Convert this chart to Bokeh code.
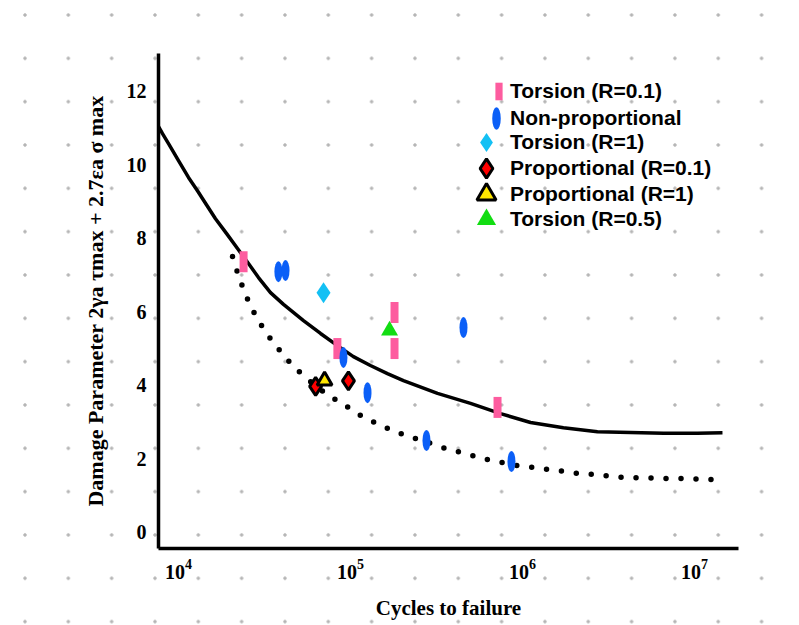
from bokeh.plotting import figure
from bokeh.models import Legend, LegendItem, InlineStyleSheet
from bokeh.embed import file_html
from bokeh.resources import INLINE

# ---- data ----
torsion01_cycles = [23900, 83900, 180300, 180300, 716000]
torsion01_param = [7.36, 5.00, 5.98, 5.00, 3.40]

nonprop_cycles = [38100, 41900, 91000, 125600, 454000, 276600, 863000]
nonprop_param = [7.09, 7.12, 4.76, 3.80, 5.57, 2.50, 1.93]

torsion1_cycles = [69700]
torsion1_param = [6.52]

prop01_cycles = [62700, 97300]
prop01_param = [3.97, 4.12]

prop1_cycles = [70700]
prop1_param = [4.13]

torsion05_cycles = [168700]
torsion05_param = [5.49]

fit_cycles = [7499, 8072, 8750, 10000, 11430, 12890, 14540, 16410, 19000,
              22030, 25520, 29180, 34270, 40780, 53290, 66950, 83950,
              104000, 130600, 164000, 203200, 320600, 498800, 745600,
              1114000, 1730000, 2729000, 4246000, 6607000, 10400000, 14550000]
fit_param = [11.11, 10.84, 10.57, 10.11, 9.65, 9.29, 8.91, 8.53, 8.13,
             7.72, 7.31, 6.93, 6.52, 6.20, 5.76, 5.41, 5.08,
             4.78, 4.54, 4.32, 4.13, 3.78, 3.51, 3.23,
             2.99, 2.85, 2.74, 2.72, 2.70, 2.70, 2.71]

lower_cycles = [20610, 22030, 23560, 25530, 28030, 31210, 35200, 40240, 46000,
                54030, 63440, 74490, 89840, 106900, 127200, 155600, 187700,
                229400, 280300, 342600, 419000, 512100, 626000, 765100, 935300,
                1159000, 1416000, 1755000, 2145000, 2657000, 3292000, 4024000,
                4985000, 6176000, 7549000, 9353000, 11430000, 14160000]
lower_param = [7.50, 7.07, 6.68, 6.28, 5.90, 5.54, 5.19, 4.86, 4.54,
               4.24, 3.97, 3.72, 3.51, 3.26, 3.07, 2.88, 2.72,
               2.58, 2.45, 2.31, 2.20, 2.09, 1.98, 1.90, 1.82,
               1.77, 1.71, 1.66, 1.60, 1.58, 1.52, 1.49,
               1.49, 1.47, 1.47, 1.47, 1.44, 1.44]

x_ticks = [1e4, 1e5, 1e6, 1e7]
y_ticks = [0, 2, 4, 6, 8, 10, 12]

labels = ["Torsion (R=0.1)", "Non-proportional", "Torsion (R=1)",
          "Proportional (R=0.1)", "Proportional (R=1)", "Torsion (R=0.5)"]

x_title = "Cycles to failure"
y_title = "Damage Parameter 2\u03b3a \u03c4max + 2.7\u03b5a \u03c3 max"

# ---- figure ----
p = figure(width=799, height=625, x_axis_type="log",
           x_range=(7651, 1.803e7), y_range=(-0.435, 13.02),
           min_border_left=158, min_border_right=61,
           min_border_top=53, min_border_bottom=77,
           output_backend="svg", toolbar_location=None)

p.background_fill_alpha = 0
p.border_fill_alpha = 0
p.outline_line_color = None
p.xgrid.visible = False
p.ygrid.visible = False

p.stylesheets = [InlineStyleSheet(css="""
:host {
  background-color: white;
  background-image: radial-gradient(circle at center, #b5b5b5 0px, #b5b5b5 1.3px, rgba(255,255,255,0) 2.1px);
  background-size: 43.33px 43.33px;
  background-position: 3.33px -6.67px;
}
""")]

for ax in (p.xaxis[0], p.yaxis[0]):
    ax.axis_line_color = "black"
    ax.axis_line_width = 3.5
    ax.major_tick_line_color = None
    ax.minor_tick_line_color = None
    ax.major_label_text_font = "Liberation Serif"
    ax.major_label_text_font_style = "bold"
    ax.major_label_text_font_size = "20px"
    ax.major_label_text_color = "black"
    ax.axis_label_text_font = "Liberation Serif"
    ax.axis_label_text_font_style = "bold"
    ax.axis_label_text_color = "black"

p.xaxis.ticker = x_ticks
p.yaxis.ticker = y_ticks
p.xaxis.major_label_standoff = 4
p.yaxis.major_label_standoff = 6
p.xaxis.axis_label = x_title
p.yaxis.axis_label = y_title
p.xaxis.axis_label_text_font_size = "21px"
p.yaxis.axis_label_text_font_size = "22px"
p.xaxis.axis_label_standoff = 14
p.yaxis.axis_label_standoff = 16

# curves
p.line(fit_cycles, fit_param, line_color="black", line_width=3.5,
       line_join="round")
p.line(lower_cycles, lower_param, line_color="black", line_width=5.5,
       line_dash="0 15", line_cap="round")

# markers
r_t01 = p.rect(torsion01_cycles, torsion01_param, width=8, height=21,
               width_units="screen", height_units="screen",
               fill_color="#fd5c9f", line_color=None)
r_np = p.ellipse(nonprop_cycles, nonprop_param, width=8, height=21,
                 width_units="screen", height_units="screen",
                 fill_color="#0b5ff7", line_color=None)
r_t1 = p.scatter(torsion1_cycles, torsion1_param, marker="diamond", size=21,
                 fill_color="#13c0f4", line_color=None)
r_p01 = p.scatter(prop01_cycles, prop01_param, marker="diamond", size=18,
                  fill_color="#ff0000", line_color="black", line_width=3)
r_p1 = p.scatter(prop1_cycles, prop1_param, marker="triangle", size=15,
                 fill_color="#ffe600", line_color="black", line_width=3)
r_t05 = p.scatter(torsion05_cycles, torsion05_param, marker="triangle", size=17,
                  fill_color="#12dd12", line_color=None)

def add_legend(label, renderer, loc, gw, gh, standoff):
    lg = Legend(items=[LegendItem(label=label, renderers=[renderer])],
                location=loc, glyph_width=gw, glyph_height=gh,
                label_height=22, label_standoff=standoff)
    lg.background_fill_alpha = 0
    lg.border_line_color = None
    lg.padding = 0
    lg.margin = 0
    lg.label_text_font = "Liberation Sans"
    lg.label_text_font_style = "bold"
    lg.label_text_font_size = "21px"
    lg.label_text_color = "black"
    lg.label_text_baseline = "middle"
    p.add_layout(lg)

add_legend(labels[0], r_t01, (336, 445), 9, 22, 7)
add_legend(labels[1], r_np, (324, 416), 28, 28, 0)
add_legend(labels[2], r_t1, (304, 382), 48, 48, 0)
add_legend(labels[3], r_p01, (304, 356), 48, 48, 0)
add_legend(labels[4], r_p1, (304, 330), 48, 48, 0)
add_legend(labels[5], r_t05, (304, 305), 48, 48, 0)

open("out.html", "w").write(file_html(p, INLINE))
